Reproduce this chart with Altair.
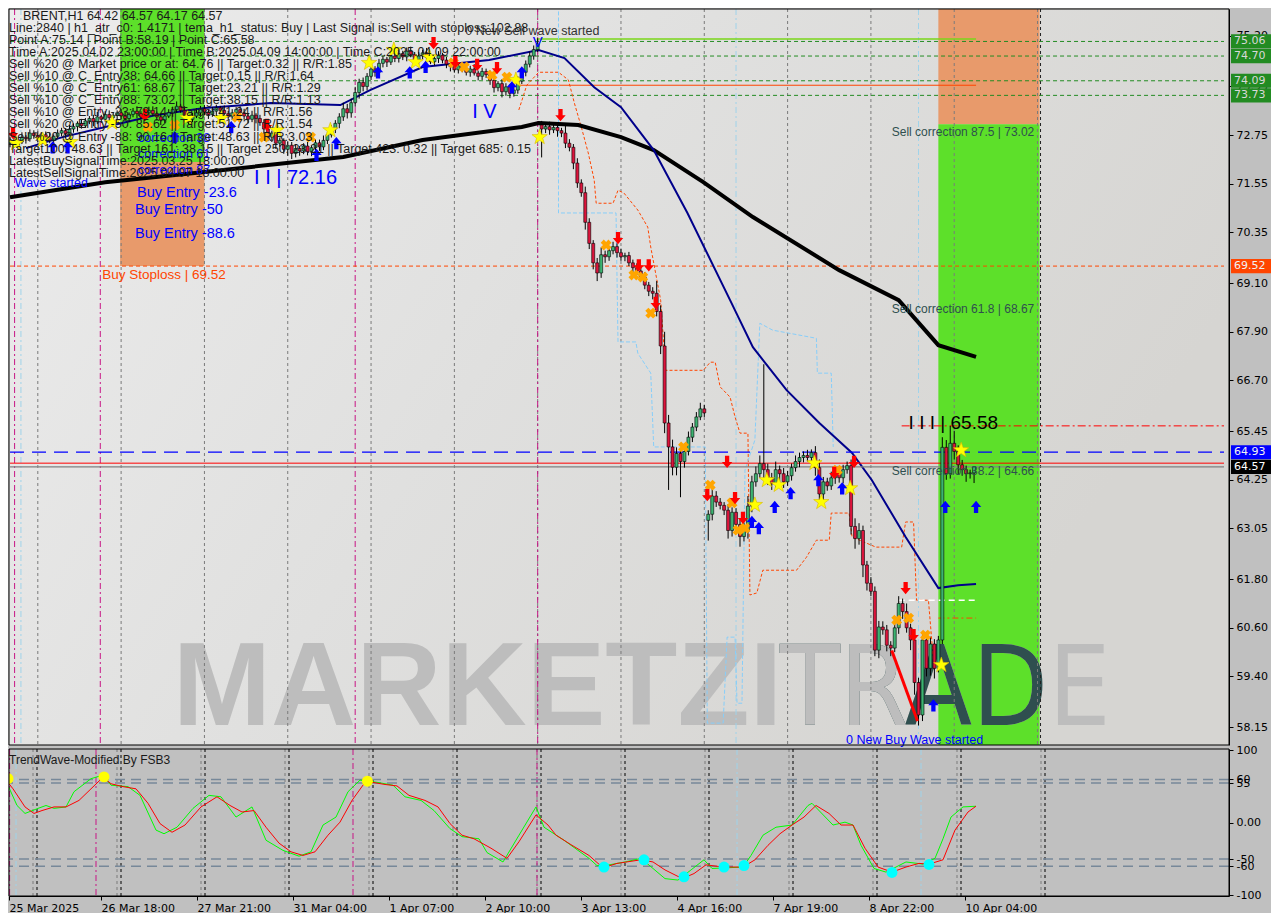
import altair as alt
import pandas as pd

# ============================ DATA ============================
# H1 candles, bar index 0..243 (closes)
close = [
    72.62, 72.50, 72.58, 72.70, 72.66, 72.80, 72.74, 72.68, 72.76, 72.70,
    72.62, 72.72, 72.80, 72.86, 72.78, 72.90, 72.96, 73.04, 72.98, 73.10,
    73.16, 73.08, 73.20, 73.14, 73.26, 73.18, 73.24, 73.30, 73.22, 73.16,
    73.26, 73.34, 73.28, 73.20, 73.30, 73.36, 73.28, 73.20, 73.12, 73.22,
    73.30, 73.38, 73.46, 73.36, 73.24, 73.14, 73.22, 73.30, 73.40, 73.32,
    73.26, 73.34, 73.42, 73.36, 73.28, 73.20, 73.30, 73.38, 73.30, 73.22,
    73.14, 73.24, 73.16, 73.06, 72.90, 72.70, 72.80, 72.55, 72.62, 72.40,
    72.50, 72.30, 72.42, 72.36, 72.48, 72.34, 72.44, 72.56, 72.46, 72.62,
    72.76, 72.90, 73.04, 73.20, 73.40, 73.30, 73.55, 73.80, 74.05, 73.95,
    74.20, 74.38, 74.30, 74.52, 74.62, 74.55, 74.70, 74.64, 74.76, 74.68,
    74.82, 74.74, 74.60, 74.70, 74.78, 74.66, 74.56, 74.64, 74.72, 74.60,
    74.50, 74.44, 74.36, 74.46, 74.40, 74.30, 74.38, 74.28, 74.20, 74.32,
    74.24, 74.10, 73.92, 74.02, 73.82, 73.94, 73.78, 73.86, 74.08, 74.30,
    74.50, 74.70, 74.86, 75.00, 72.90, 72.96, 72.88, 72.94, 72.86, 72.80,
    72.55, 72.45, 72.06, 71.57, 71.33, 70.60, 70.08, 69.60, 69.35, 69.80,
    69.75, 69.90, 70.00, 69.85, 69.75, 69.78, 69.60, 69.48, 69.40, 69.25,
    69.05, 68.90, 68.85, 68.40, 67.55, 65.65, 65.06, 64.56, 64.90, 64.70,
    64.95, 65.30, 65.55, 65.80, 66.00, 65.90, 63.40, 63.85, 63.70, 63.62,
    63.50, 63.00, 63.45, 63.15, 62.85, 63.00, 63.60, 64.20, 64.40, 64.65,
    64.50, 64.30, 64.15, 64.50, 64.40, 64.20, 64.35, 64.55, 64.70, 64.80,
    64.85, 64.80, 64.92, 64.55, 63.90, 64.20, 64.10, 64.30, 64.45, 64.30,
    64.50, 64.60, 63.10, 62.80, 63.00, 62.15, 61.70, 61.50, 60.05, 60.62,
    60.55, 60.17, 60.10, 60.60, 61.20, 61.00, 60.60, 60.30, 59.25, 58.45,
    60.30, 59.60, 60.20, 59.60, 60.30, 65.05, 64.40, 65.15, 64.95, 64.62,
    64.50, 64.40, 64.42, 64.57,
]
# upper / lower shadow lengths in cents
hi_wick = [
    8, 10, 6, 12, 5, 9, 7, 10, 6, 8, 12, 5, 9, 7, 6, 10, 8, 5, 11, 7,
    6, 9, 12, 5, 8, 10, 7, 6, 9, 11, 5, 8, 12, 6, 7, 9, 10, 5, 8, 6,
    9, 7, 12, 6, 10, 5, 8, 11, 7, 9, 6, 10, 8, 5, 12, 7, 9, 6, 8, 10,
    7, 11, 5, 9, 8, 12, 6, 10, 7, 5, 9, 8, 11, 6, 7, 10, 5, 9, 8, 12,
    6, 10, 8, 9, 15, 12, 10, 14, 9, 12, 8, 10, 7, 11, 9, 6, 10, 8, 12, 7,
    9, 11, 6, 10, 8, 12, 7, 9, 10, 6, 8, 11, 7, 9, 5, 10, 8, 12, 6, 9,
    7, 10, 8, 6, 11, 9, 7, 10, 12, 8, 9, 11, 10, 14, 10, 8, 12, 6, 9, 7,
    20, 10, 8, 12, 9, 15, 10, 8, 12, 18, 10, 9, 12, 8, 10, 7, 9, 8, 11, 10,
    12, 8, 10, 30, 15, 35, 20, 18, 15, 12, 20, 14, 10, 12, 15, 10, 10, 25, 12, 10,
    8, 15, 12, 10, 12, 20, 25, 15, 18, 20, 245, 15, 12, 20, 10, 14, 12, 10, 15, 12,
    10, 14, 8, 16, 20, 12, 10, 15, 14, 10, 12, 10, 15, 20, 18, 12, 10, 15, 12, 15,
    14, 12, 10, 15, 18, 12, 20, 10, 15, 12, 14, 20, 18, 12, 10, 25, 18, 43, 30, 15,
    12, 10, 8, 0,
]
lo_wick = [
    10, 6, 9, 5, 12, 7, 8, 10, 6, 9, 7, 11, 5, 8, 10, 6, 9, 12, 7, 5,
    8, 11, 6, 9, 7, 10, 5, 12, 8, 6, 9, 7, 11, 5, 10, 8, 6, 9, 12, 7,
    5, 10, 8, 6, 9, 12, 7, 5, 10, 8, 11, 6, 9, 7, 10, 5, 8, 12, 6, 9,
    10, 7, 12, 8, 15, 10, 12, 14, 9, 11, 16, 14, 10, 12, 8, 9, 11, 7, 10, 8,
    9, 7, 10, 12, 10, 14, 12, 10, 15, 12, 10, 9, 11, 8, 10, 12, 7, 9, 10, 8,
    11, 7, 9, 12, 8, 10, 6, 9, 11, 8, 10, 12, 7, 9, 10, 8, 11, 6, 10, 9,
    8, 11, 12, 9, 14, 10, 12, 8, 9, 7, 10, 8, 9, 6, 70, 10, 12, 8, 15, 10,
    12, 10, 15, 12, 10, 18, 14, 16, 20, 12, 15, 10, 9, 12, 10, 11, 8, 12, 10, 9,
    10, 12, 15, 12, 20, 25, 106, 20, 20, 88, 15, 10, 12, 10, 8, 10, 50, 15, 12, 10,
    12, 20, 15, 18, 25, 12, 20, 15, 12, 10, 20, 18, 15, 12, 20, 15, 10, 12, 10, 14,
    12, 10, 15, 20, 30, 15, 12, 10, 15, 12, 14, 10, 20, 25, 15, 30, 18, 12, 15, 20,
    12, 15, 20, 10, 15, 18, 12, 25, 30, 26, 15, 20, 18, 25, 10, 10, 15, 12, 20, 25,
    15, 20, 12, 25,
]
first_open = 72.55
gap_open = {134: 73.00, 176: 63.25}

xtick_idx = [1, 24, 48, 72, 96, 120, 144, 168, 192, 216, 240]
xtick_lbl = ["25 Mar 2025", "26 Mar 18:00", "27 Mar 21:00", "31 Mar 04:00", "1 Apr 07:00",
             "2 Apr 10:00", "3 Apr 13:00", "4 Apr 16:00", "7 Apr 19:00", "8 Apr 22:00",
             "10 Apr 04:00"]
price_ticks = [58.15, 59.40, 60.60, 61.80, 63.05, 64.25, 65.45, 66.70, 67.90, 69.10,
               70.35, 71.55, 72.75, 73.95, 75.20]
price_top = 75.86
price_bottom = 57.71

# coloured zones
green_zone_i0 = [27.75, 234.0]
green_zone_i1 = [49.0, 259.5]
green_zone_top = [price_top, 73.02]
green_zone_bot = [72.09, price_bottom]
orange_zone_i0 = [27.75, 234.0]
orange_zone_i1 = [49.0, 259.5]
orange_zone_top = [72.09, price_top]
orange_zone_bot = [69.52, 73.02]

# moving averages
black_ma_i = [0, 24, 49, 71.5, 84, 104, 129, 133.25, 143.25, 154, 162.25, 174.75, 187.25, 209, 224, 234, 243.5]
black_ma_p = [71.22, 71.59, 71.84, 72.08, 72.21, 72.63, 72.95, 73.05, 73.0, 72.70, 72.38, 71.59, 70.73, 69.42, 68.68, 67.57, 67.28]
navy_ma_i = [4, 13.25, 24, 36.5, 49, 65.75, 83.25, 90.75, 104, 120.75, 133.25, 139.75, 147.25, 154, 162.25,
             170.75, 181.5, 187.25, 195.75, 204, 212.25, 217.25, 225.75, 234, 239, 243.5]
navy_ma_p = [72.43, 72.70, 72.95, 73.24, 73.42, 73.54, 73.49, 73.86, 74.43, 74.60, 74.85, 74.65, 73.93, 73.44, 72.38,
             70.83, 68.68, 67.52, 66.46, 65.65, 64.91, 64.24, 62.84, 61.58, 61.65, 61.68]
trend_i = [222.25, 228.75]
trend_p = [60.04, 58.30]

orange_step_i = [128.25, 130.25, 133.25, 138.25, 140.75, 142.25, 144, 145.75, 147.25, 147.75,
                 152, 153.25, 154.75, 158.25, 160.75, 161.5, 164, 165.25, 174.75, 176.5,
                 177.75, 179, 181.5, 182.75, 184, 186, 186.5, 188.25, 189.75, 198.25,
                 200.75, 203.25, 206.5, 207, 211.5, 212.25, 218.25, 224.75, 225.75, 227.75,
                 228.5, 231.5, 232.75]
orange_step_p = [73.37, 73.98, 74.30, 74.30, 74.11, 73.54, 72.95, 72.31, 71.64, 71.07,
                 71.07, 71.39, 71.32, 70.90, 70.48, 69.99, 68.68, 66.95, 66.95, 67.15,
                 67.15, 66.54, 66.29, 65.80, 65.40, 65.40, 61.41, 61.46, 62.02, 62.02,
                 62.34, 62.76, 62.76, 63.43, 63.43, 62.84, 62.59, 62.59, 63.21, 63.21,
                 61.28, 61.28, 59.80]
blue_step_i = [138.25, 138.25, 152.75, 153.25, 157.75, 158.25, 161.5, 162.25, 175.25, 175.75,
               179.75, 180.75, 182.75, 183.25, 184.5, 185.25, 187.75, 189, 192.25, 203.25,
               203.5, 207, 207.5]
blue_step_p = [75.80, 70.83, 70.83, 67.65, 67.65, 67.37, 66.88, 65.06, 65.06, 58.25,
               58.25, 60.37, 60.37, 58.74, 58.74, 64.49, 65.23, 68.11, 67.94, 67.74,
               66.88, 66.88, 65.06]

# vertical separators (bar index)
grid_gray_i = [7, 28, 49, 70, 91, 112, 133, 154, 175, 196, 217, 238, 259]
grid_black_i = [8, 29, 50, 71, 92, 113, 134, 155, 176, 197, 218, 239, 260]
magenta_i = [1.15, 22.75, 87, 133]
ltblue_i = [2.75, 183, 229]
sep_main_i = [259.75]

# horizontal levels
level_green = [75.06, 74.70, 74.09, 73.73]
level_stop = [69.52]
level_mid = [64.93]
level_corr = [64.66]
level_last = [64.57]
level_sellwave = [75.12]
sellwave_i = [132.75, 243.5]
level_orange = [73.98]
orange_i = [128.25, 243.5]
level_c = [65.58]
c_i = [224.75, 306.0]
level_white = [61.28]
white_i = [224.0, 243.5]
level_oc = [60.84]
oc_i = [234.0, 243.5]

# signal markers
arrow_dn_i = [0.75, 34, 64.75, 106.75, 112.25, 117.75, 122.75, 138.75, 153.25, 158.5, 161, 162.75,
              175.75, 180.75, 182.75, 184.75, 207.75, 212.75, 225.75, 227.75]
arrow_dn_p = [72.80, 73.24, 73.0, 75.02, 74.55, 74.48, 74.40, 73.24, 70.21, 69.54, 69.54, 68.61,
              63.87, 64.69, 63.80, 63.31, 64.42, 64.69, 61.58, 60.42]
arrow_up_i = [10.75, 14.5, 41.5, 55.75, 77.25, 82.25, 92.75, 100.75, 104.75, 126.5, 129, 187, 188.75,
              192.75, 196.75, 203.75, 209.75, 235.75, 243.5, 232.75]
arrow_up_p = [72.45, 72.45, 72.70, 72.95, 72.26, 72.55, 74.30, 74.30, 74.43, 73.93, 74.30, 63.21, 63.06,
              63.58, 63.92, 64.24, 64.04, 63.58, 63.58, 58.69]
star_i = [1.5, 8.25, 15.25, 25.75, 44.75, 53.25, 67.25, 80.75, 90.5, 96.75, 102.25, 105.75, 127.5,
          133.5, 187.75, 190.75, 193.75, 202.75, 204.5, 211.75, 239.75, 234.75]
star_p = [72.55, 72.63, 72.58, 73.05, 73.17, 73.17, 72.87, 72.87, 74.53, 74.85, 74.55, 74.67, 74.11,
          72.70, 63.63, 64.24, 64.12, 64.66, 63.70, 64.04, 64.98, 59.68]
x_i = [34.75, 41.5, 57.25, 64, 75.75, 111.75, 114.5, 121.5, 125.25, 150.25, 157.25, 159.5, 161.5,
       169.75, 176.5, 182, 183.5, 185.25, 208.5, 223.5, 226.5, 230.75]
x_p = [72.95, 73.0, 73.19, 72.70, 72.70, 74.53, 74.43, 74.23, 74.18, 70.04, 69.30, 69.25, 68.36,
       65.06, 64.12, 63.68, 63.01, 63.06, 64.49, 60.79, 60.84, 60.42]

# oscillator (TrendWave)
osc_red_i = [0, 2, 5, 7.25, 9.25, 12.25, 15.25, 18.5, 21.5, 24.5, 26.5, 29.5, 32.75, 35.75, 38.75,
             41.75, 45, 49, 53, 56.25, 59.25, 62.25, 65.25, 68.5, 71.5, 74.5, 77.5, 80.75, 83.75, 86.75,
             89.75, 90.75, 95, 98, 101, 105, 108.25, 111.25, 114.25, 117.25, 121.5, 125.5, 128.5, 132.75,
             135.75, 137.75, 141.75, 146, 149.5, 153, 159, 162, 165, 168.25, 169.75, 172.25, 175.25,
             179.5, 184.5, 187.5, 190.75, 193.75, 196.75, 199.75, 202.75, 206, 209, 212, 215, 218.25,
             221.75, 225.25, 228.5, 231, 234.5, 237.5, 240.75, 242.75]
osc_red_v = [61, 47, 22, 13, 17, 22, 22, 31, 47, 63, 54, 50, 47, 27, -1, -13, -3, 22, 36, 24, 15, 17,
             -6, -28, -40, -45, -40, -17, 1, 31, 54, 57, 53, 51, 38, 31, 22, -1, -17, -22, -35, -49,
             -26, 11, -3, -17, -31, -45, -62, -56, -51, -54, -65, -74, -76, -70, -58, -61, -61, -51,
             -31, -15, -3, 8, 24, 13, -3, -3, -35, -61, -68, -61, -56, -57, -51, -10, 15, 23]
osc_green_i = [0, 3, 5, 8.25, 10.25, 12.25, 15.25, 17.25, 21.5, 24.5, 26.5, 30.75, 33.75, 37.75, 39.75,
               43, 47, 51, 54, 57.75, 59.75, 61.75, 65.25, 69.5, 73.5, 76.5, 79.5, 82.75, 85.75, 88.75,
               93, 97, 100, 104, 107.25, 111.25, 114.25, 118.5, 120.5, 124.5, 128.5, 132.75, 134.75,
               139.75, 146, 148, 151, 155, 159, 165, 168.25, 174.75, 176.75, 184.5, 186.5, 189.5,
               192.75, 196.75, 200.75, 201.75, 207, 210, 212, 214, 217.25, 220.25, 225.25, 229.5,
               232.5, 234.5, 236.5, 239.5, 242.75]
osc_green_v = [61, 24, 13, 20, 24, 20, 22, 43, 61, 66, 52, 50, 38, -10, -15, -6, 20, 38, 36, 8, 15, 22,
               -24, -38, -46, -40, -3, 8, 43, 59, 56, 52, 36, 31, 17, -8, -19, -22, -41, -54, -17, 22,
               -6, -24, -49, -59, -58, -54, -49, -77, -79, -51, -63, -61, -45, -17, -6, -3, 24, 27,
               -3, 1, -3, -31, -63, -68, -54, -57, -49, -22, 8, 22, 23]
dot_yellow_i = [0.75, 24.75, 90.6]
dot_yellow_v = [61, 63.5, 57.5]
dot_cyan_i = [149.75, 159.75, 169.75, 179.75, 184.75, 221.75, 231]
dot_cyan_v = [-61, -51, -74.5, -61, -59, -68.5, -57.5]
osc_levels = [60, 55, -50, -60]
osc_ticks = [100, 60, 55, 0, -50, -60, -100]

info_lines = [
    "BRENT,H1  64.42 64.57 64.17 64.57",
    "Line:2840 | h1_atr_c0: 1.4171 | tema_h1_status: Buy | Last Signal is:Sell with stoploss:102.88",
    "Point A:75.14 | Point B:58.19 | Point C:65.58",
    "Time A:2025.04.02 23:00:00 | Time B:2025.04.09 14:00:00 | Time C:2025.04.09 22:00:00",
    "Sell %20 @ Market price or at: 64.76 || Target:0.32 || R/R:1.85",
    "Sell %10 @ C_Entry38: 64.66 || Target:0.15 || R/R:1.64",
    "Sell %10 @ C_Entry61: 68.67 || Target:23.21 || R/R:1.29",
    "Sell %10 @ C_Entry88: 73.02 || Target:38.15 || R/R:1.13",
    "Sell %10 @ Entry -23: 79.14 || Target:41.24 || R/R:1.56",
    "Sell %20 @ Entry -50: 85.62 || Target:51.72 || R/R:1.54",
    "Sell %20 @ Entry -88: 90.16 || Target:48.63 || R/R:3.03",
    "Target100: 48.63 || Target 161: 38.15 || Target 250: 23.21 || Target 423: 0.32 || Target 685: 0.15",
    "LatestBuySignalTime:2025.03.25 18:00:00",
    "LatestSellSignalTime:2025.04.07 18:00:00",
]

# ============================ CHART ============================
W, HM, HI = 1220, 736, 147
xs = alt.Scale(domain=[1, 306], nice=False, zero=False)
ys = alt.Scale(domain=[price_bottom, price_top], nice=False, zero=False)
os_ = alt.Scale(domain=[-101, 102], nice=False, zero=False)

Y_AXIS = alt.Axis(orient="right", values=price_ticks, format=".2f", title=None, tickSize=4,
                  labelPadding=3, labelOverlap=False, labelFlush=False)
lbl_arr = "[" + ",".join("'%s'" % s for s in xtick_lbl) + "]"
idx_arr = "[" + ",".join(str(v) for v in xtick_idx) + "]"
X_AXIS = alt.Axis(values=xtick_idx, labelExpr=lbl_arr + "[indexof(" + idx_arr + ", datum.value)]",
                  labelAlign="left", labelFlush=False, labelOverlap=False, tickSize=4,
                  labelPadding=2, title=None)
O_AXIS = alt.Axis(orient="right", values=osc_ticks, title=None, tickSize=4, labelPadding=3,
                  labelOverlap=False, labelFlush=False,
                  labelExpr="datum.value == 0 ? '0.00' : '' + datum.value")


def X(f):
    return alt.X(f + ":Q", scale=xs, axis=None)


def Y(f):
    return alt.Y(f + ":Q", scale=ys, axis=Y_AXIS)


def XI(f):
    return alt.X(f + ":Q", scale=xs, axis=X_AXIS)


def YI(f):
    return alt.Y(f + ":Q", scale=os_, axis=O_AXIS)


def D(**cols):
    return pd.DataFrame(cols)


def hlines(prices, i0, i1, **mk):
    n = len(prices)
    return alt.Chart(D(p=prices, a=[i0] * n, b=[i1] * n)).mark_rule(clip=True, **mk).encode(
        x=X("a"), x2="b", y=Y("p"))


def vlines(idx, xenc, **mk):
    return alt.Chart(D(i=idx)).mark_rule(clip=True, **mk).encode(x=xenc("i"))


def label(texts, ii, pp, color, size, weight="normal", align="left", font="Liberation Sans",
          baseline="middle"):
    return alt.Chart(D(t=texts, i=ii, p=pp)).mark_text(
        align=align, baseline=baseline, color=color, fontSize=size, font=font,
        fontWeight=weight).encode(x=X("i"), y=Y("p"), text="t:N")


def axis_box(prices, fill, tcolor):
    base = alt.Chart(D(p=prices)).transform_calculate(
        ph="datum.p + 0.175", pl="datum.p - 0.175")
    r = base.mark_rect(color=fill, opacity=1).encode(
        x=alt.value(W + 2), x2=alt.value(W + 42), y=Y("ph"), y2="pl")
    t = base.mark_text(align="left", baseline="middle", font="DejaVu Sans", fontSize=11,
                       color=tcolor).encode(x=alt.value(W + 5), y=Y("p"),
                                            text=alt.Text("p:Q", format=".2f"))
    return r + t


DN = "M-0.35,-1L0.35,-1L0.35,0L0.85,0L0,1L-0.85,0L-0.35,0Z"
UP = "M-0.35,1L0.35,1L0.35,0L0.85,0L0,-1L-0.85,0L-0.35,0Z"
STAR = ("M0,-1L0.235,-0.324L0.951,-0.309L0.38,0.124L0.588,0.809L0,0.4L-0.588,0.809"
        "L-0.38,0.124L-0.951,-0.309L-0.235,-0.324Z")

# ---- candles
opens = []
for k in range(len(close)):
    if k == 0:
        opens.append(first_open)
    elif k in gap_open:
        opens.append(gap_open[k])
    else:
        opens.append(close[k - 1])
highs = [round(max(o, c) + w / 100, 2) for o, c, w in zip(opens, close, hi_wick)]
lows = [round(min(o, c) - w / 100, 2) for o, c, w in zip(opens, close, lo_wick)]
cdf = D(i=list(range(len(close))), o=opens, c=close, h=highs, l=lows)

bg = alt.Chart(D(z=[0])).mark_rect(
    opacity=1,
    color=alt.Gradient(gradient="linear", x1=0, x2=1, y1=0, y2=0.4,
                       stops=[alt.GradientStop(color="#ececec", offset=0),
                              alt.GradientStop(color="#e0e0df", offset=0.5),
                              alt.GradientStop(color="#d6d5d2", offset=1)])
).encode(x=alt.value(0), x2=alt.value(W), y=alt.value(0), y2=alt.value(HM))

zones_g = alt.Chart(D(a=green_zone_i0, b=green_zone_i1, t=green_zone_top, u=green_zone_bot)).mark_rect(
    color="#5de02a", opacity=1).encode(x=X("a"), x2="b", y=Y("t"), y2="u")
zones_o = alt.Chart(D(a=orange_zone_i0, b=orange_zone_i1, t=orange_zone_top, u=orange_zone_bot)).mark_rect(
    color="#e89a6b", opacity=1).encode(x=X("a"), x2="b", y=Y("t"), y2="u")

# watermark: gray TRADE, dark TRAD on top, gray TR again -> only "AD" dark, all glyphs aligned
WM_THIN = "Liberation Sans Narrow, DejaVu Sans Condensed, Liberation Sans"
WM_GRAY = "#bdbdbd"
wm_layers = [
    label(["MARKETZI"], [41.0], [58.2], WM_GRAY, 118, weight="bold", baseline="alphabetic"),
    label(["TRADE"], [194.0], [58.2], WM_GRAY, 110, font=WM_THIN, baseline="alphabetic"),
    label(["TRAD"], [194.0], [58.2], "#2f4f4f", 110, font=WM_THIN, baseline="alphabetic"),
    label(["TR"], [194.0], [58.2], WM_GRAY, 110, font=WM_THIN, baseline="alphabetic"),
]

main_layers = [bg, zones_o, zones_g] + wm_layers + [
    vlines(grid_gray_i, X, color="#7a7a7a", strokeDash=[3, 3], strokeWidth=1),
    vlines(magenta_i, X, color="#c71585", strokeDash=[6, 3, 2, 3], strokeWidth=1),
    vlines(ltblue_i, X, color="#9fd3ea", strokeDash=[6, 3, 2, 3], strokeWidth=1),
    vlines(sep_main_i, X, color="#222222", strokeDash=[3, 3], strokeWidth=1),
    hlines(level_green, 0, 306, color="#228b22", strokeDash=[4, 3], strokeWidth=1),
    hlines(level_stop, 0, 306, color="#ff4500", strokeDash=[4, 3], strokeWidth=1),
    hlines(level_sellwave, sellwave_i[0], sellwave_i[1], color="#7ad61a", strokeWidth=1.5),
    hlines(level_orange, orange_i[0], orange_i[1], color="#ff4500", strokeWidth=1),
    alt.Chart(D(i=orange_step_i, p=orange_step_p, k=list(range(len(orange_step_i))))).mark_line(
        color="#ff4500", strokeDash=[3, 2], strokeWidth=1, clip=True).encode(
        x=X("i"), y=Y("p"), order="k:Q"),
    alt.Chart(D(i=blue_step_i, p=blue_step_p, k=list(range(len(blue_step_i))))).mark_line(
        color="#87cefa", strokeDash=[4, 2], strokeWidth=1, clip=True).encode(
        x=X("i"), y=Y("p"), order="k:Q"),
    alt.Chart(D(i=black_ma_i, p=black_ma_p)).mark_line(color="#000000", strokeWidth=4, clip=True).encode(
        x=X("i"), y=Y("p")),
    alt.Chart(D(i=navy_ma_i, p=navy_ma_p)).mark_line(color="#00008b", strokeWidth=2, clip=True).encode(
        x=X("i"), y=Y("p")),
    hlines(level_mid, 0, 306, color="#0000ff", strokeDash=[14, 8], strokeWidth=1.3),
    hlines(level_corr, 0, 306, color="#ff0000", strokeWidth=1),
    hlines(level_last, 0, 306, color="#808080", strokeWidth=1.2),
    hlines(level_c, c_i[0], c_i[1], color="#ff0000", strokeDash=[8, 3, 2, 3], strokeWidth=1),
    hlines(level_white, white_i[0], white_i[1], color="#ffffff", strokeDash=[6, 4], strokeWidth=1.5),
    hlines(level_oc, oc_i[0], oc_i[1], color="#ff4500", strokeDash=[6, 3, 2, 3], strokeWidth=1),
    alt.Chart(cdf).mark_rule(color="black", strokeWidth=1, clip=True).encode(x=X("i"), y=Y("l"), y2="h"),
    alt.Chart(cdf).mark_bar(size=3, stroke="black", strokeWidth=0.6, opacity=1, clip=True).encode(
        x=X("i"), y=Y("o"), y2="c",
        fill=alt.condition("datum.c >= datum.o", alt.value("#3cb371"), alt.value("#dc143c"))),
    alt.Chart(D(i=trend_i, p=trend_p)).mark_line(color="#ff0000", strokeWidth=3, clip=True).encode(
        x=X("i"), y=Y("p")),
    alt.Chart(D(i=x_i, p=x_p)).mark_point(shape="cross", angle=45, filled=True, size=120, clip=True,
                                          color="#ffa500", opacity=1).encode(x=X("i"), y=Y("p")),
    alt.Chart(D(i=star_i, p=star_p)).mark_point(shape=STAR, filled=True, size=260, color="#ffff00",
                                                stroke="#d8b800", strokeWidth=0.6, opacity=1,
                                                clip=True).encode(x=X("i"), y=Y("p")),
    alt.Chart(D(i=arrow_dn_i, p=arrow_dn_p)).mark_point(shape=DN, filled=True, size=150, clip=True,
                                                        color="#ff0000", opacity=1).encode(
        x=X("i"), y=Y("p")),
    alt.Chart(D(i=arrow_up_i, p=arrow_up_p)).mark_point(shape=UP, filled=True, size=150, clip=True,
                                                        color="#0000ff", opacity=1).encode(
        x=X("i"), y=Y("p")),
    label(["I V", "I I | 72.16"], [116.5, 61.5], [73.32, 71.69], "#0000ff", 20),
    label(["V"], [133.0], [75.04], "#0000ff", 15, align="center"),
    label(["I I I | 65.58"], [226.5], [65.65], "#000000", 19),
    label(["Buy Entry -23.6", "Buy Entry -50", "Buy Entry -88.6"], [32, 31.5, 31.5],
          [71.32, 70.90, 70.31], "#0000ff", 14.5),
    label(["Buy Stoploss | 69.52"], [23.25], [69.30], "#ff4500", 13.5),
    label(["Sell correction 87.5 | 73.02", "Sell correction 61.8 | 68.67", "Sell correction 38.2 | 64.66"],
          [222.25, 222.25, 222.25], [72.82, 68.46, 64.46], "#2f4f4f", 12),
    label(["0 New Buy Wave started", "Wave started", "correction 38", "correction 61", "correction 87"],
          [210.75, 1.2, 32.25, 32.25, 32.25], [57.83, 71.57, 72.68, 72.28, 71.89], "#0000ff", 12.5),
    label(["0 New Sell wave started"], [114.75], [75.31], "#333333", 12.5),
]
for k, s in enumerate(info_lines):
    main_layers.append(
        alt.Chart(D(t=[s])).mark_text(align="left", baseline="middle", fontSize=12.5,
                                      font="Liberation Sans", color="#1a1a1a").encode(
            x=alt.value(14 if k == 0 else 0), y=alt.value(6.5 + 12.1 * k), text="t:N"))
main_layers += [
    axis_box(level_green, "#228b22", "#d8d8d8"),
    axis_box(level_stop, "#ff4500", "#f2f2f2"),
    axis_box(level_mid, "#0000ff", "#f2f2f2"),
    axis_box(level_last, "#000000", "#ffffff"),
    alt.Chart(D(z=[0])).mark_rect(filled=False, stroke="black", strokeWidth=1).encode(
        x=alt.value(0), x2=alt.value(W), y=alt.value(0), y2=alt.value(HM)),
]
main = alt.layer(*main_layers).properties(width=W, height=HM)

# ---- indicator panel
ind_layers = [
    alt.Chart(D(i=grid_gray_i)).mark_rule(color="#7a7a7a", strokeDash=[3, 3], clip=True).encode(x=XI("i")),
    alt.Chart(D(i=grid_black_i)).mark_rule(color="#000000", strokeDash=[3, 3], clip=True).encode(x=XI("i")),
    alt.Chart(D(i=magenta_i)).mark_rule(color="#c71585", strokeDash=[6, 3, 2, 3], clip=True).encode(x=XI("i")),
    alt.Chart(D(i=ltblue_i)).mark_rule(color="#9fd3ea", strokeDash=[6, 3, 2, 3], clip=True).encode(x=XI("i")),
    alt.Chart(D(v=osc_levels)).mark_rule(color="#778899", strokeDash=[10, 6], strokeWidth=1.5).encode(
        y=YI("v")),
    alt.Chart(D(i=osc_green_i, v=osc_green_v)).mark_line(color="#00ff00", strokeWidth=1, clip=True).encode(
        x=XI("i"), y=YI("v")),
    alt.Chart(D(i=osc_red_i, v=osc_red_v)).mark_line(color="#ff0000", strokeWidth=1, clip=True).encode(
        x=XI("i"), y=YI("v")),
    alt.Chart(D(i=dot_yellow_i, v=dot_yellow_v)).mark_circle(size=120, color="#ffff00", opacity=1,
                                                             clip=True).encode(x=XI("i"), y=YI("v")),
    alt.Chart(D(i=dot_cyan_i, v=dot_cyan_v)).mark_circle(size=120, color="#00ffff", opacity=1,
                                                         clip=True).encode(x=XI("i"), y=YI("v")),
    alt.Chart(D(t=["TrendWave-Modified By FSB3"])).mark_text(
        align="left", baseline="middle", fontSize=12, font="Liberation Sans", color="#1a1a1a").encode(
        x=alt.value(0), y=alt.value(11), text="t:N"),
    alt.Chart(D(z=[0])).mark_rect(filled=False, stroke="black", strokeWidth=1).encode(
        x=alt.value(0), x2=alt.value(W), y=alt.value(0), y2=alt.value(HI)),
]
ind = alt.layer(*ind_layers).properties(width=W, height=HI)

chart = alt.vconcat(main, ind, spacing=4, bounds="flush").properties(
    padding=0, background="#c0c0c0"
).configure_axis(
    labelFont="DejaVu Sans", labelFontSize=11, labelColor="black", tickColor="black",
    domainColor="black", grid=False
).configure_view(stroke=None)

chart.save("out.html", embed_options={"renderer": "svg", "actions": False})
